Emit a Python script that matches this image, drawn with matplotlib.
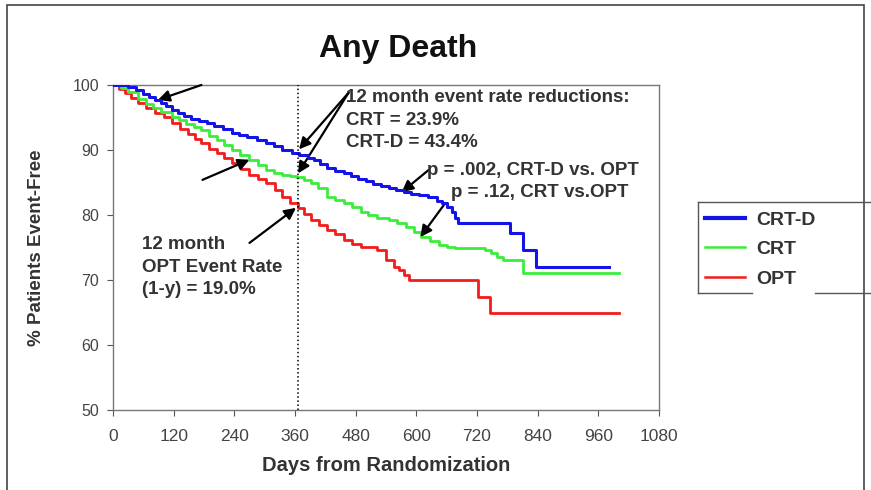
"""
Curvas Kaplan-Meier: muerte por cualquier causa (CRT-D, CRT, OPT).
"""

import matplotlib
matplotlib.use("Agg")
import matplotlib.pyplot as plt
from matplotlib.lines import Line2D
from matplotlib.patches import Rectangle

plt.rcParams["font.family"] = ["Liberation Sans", "DejaVu Sans"]

# Supervivencia libre de eventos (%), en escalones
DIAS_CRTD = [0, 30, 45, 60, 72, 83, 95, 105, 116, 128, 140, 155, 170, 185,
             200, 218, 236, 250, 265, 285, 303, 318, 335, 354, 368, 385, 398,
             410, 423, 440, 457, 470, 485, 500, 515, 530, 545, 560, 575, 590,
             605, 624, 640, 650, 660, 670, 677, 683, 785, 811, 837, 982]
PCT_CRTD = [100, 99.7, 99.2, 98.6, 98.1, 97.7, 97.2, 96.7, 96.2, 95.7, 95.3,
            94.8, 94.4, 94.1, 93.7, 93.2, 92.6, 92.3, 92.0, 91.6, 91.1, 90.6,
            90.0, 89.5, 89.2, 88.8, 88.5, 87.8, 87.2, 86.8, 86.4, 86.0, 85.5,
            85.2, 84.8, 84.5, 84.2, 83.9, 83.6, 83.3, 83.0, 82.7, 82.2, 81.8,
            81.3, 80.4, 79.6, 78.8, 77.2, 74.6, 72.0, 72.0]

DIAS_CRT = [0, 15, 30, 49, 65, 80, 95, 116, 130, 145, 160, 175, 190, 205,
            220, 236, 252, 270, 286, 303, 318, 335, 350, 362, 377, 391, 405,
            423, 440, 457, 473, 490, 505, 522, 545, 562, 579, 595, 610, 627,
            644, 660, 677, 736, 748, 760, 772, 811, 1000]
PCT_CRT = [100, 99.5, 98.9, 97.8, 97.1, 96.5, 95.9, 95.1, 94.6, 94.0, 93.5,
           93.0, 92.2, 91.5, 90.8, 90.0, 89.3, 88.5, 87.7, 86.9, 86.5, 86.2,
           86.0, 85.8, 85.4, 84.9, 84.2, 82.8, 82.3, 81.8, 81.2, 80.5, 80.0,
           79.5, 79.2, 78.7, 78.2, 77.4, 76.6, 76.0, 75.4, 75.1, 74.9, 74.6,
           74.1, 73.6, 73.0, 71.0, 71.0]

DIAS_OPT = [0, 12, 24, 36, 49, 66, 83, 100, 116, 132, 148, 162, 175, 190,
            205, 220, 236, 253, 270, 286, 303, 320, 335, 350, 365, 378, 391,
            407, 423, 440, 457, 473, 490, 522, 541, 555, 565, 575, 585, 722,
            746, 1000]
PCT_OPT = [100, 99.4, 98.8, 98.0, 97.2, 96.4, 95.7, 95.0, 94.2, 93.3, 92.4,
           91.7, 91.0, 90.2, 89.5, 88.8, 88.0, 87.1, 86.2, 85.6, 84.9, 83.8,
           82.8, 81.9, 81.0, 80.1, 79.2, 78.5, 77.7, 77.0, 76.2, 75.6, 75.1,
           74.6, 73.0, 72.0, 71.5, 70.8, 70.0, 67.4, 64.9, 64.9]

TICKS_X = list(range(0, 1081, 120))
TICKS_Y = list(range(50, 101, 10))
DIA_12_MESES = 365

AZUL = "#1414e6"
VERDE = "#3cec3c"
ROJO = "#f21c1c"
TEXTO = "#333333"

fig = plt.figure(figsize=(8.71, 4.90), dpi=100)
ax = fig.add_axes([0.1297, 0.1633, 0.6269, 0.6633])

ax.plot(DIAS_CRTD, PCT_CRTD, drawstyle="steps-post", color=AZUL, lw=2.2,
        label="CRT-D", zorder=4)
ax.plot(DIAS_CRT, PCT_CRT, drawstyle="steps-post", color=VERDE, lw=2.0,
        label="CRT", zorder=3)
ax.plot(DIAS_OPT, PCT_OPT, drawstyle="steps-post", color=ROJO, lw=2.0,
        label="OPT", zorder=2)

ax.axvline(DIA_12_MESES, color="black", ls=":", lw=1.1, zorder=5)

ax.set_xlim(0, 1080)
ax.set_ylim(50, 100)
ax.set_xticks(TICKS_X)
ax.set_yticks(TICKS_Y)
ax.tick_params(direction="out", length=4, colors="#555555",
               labelcolor="#444444")
ax.tick_params(axis="x", pad=10, labelsize=12.5)
ax.tick_params(axis="y", pad=6, labelsize=11.5)
for lado in ax.spines.values():
    lado.set_color("#777777")
    lado.set_linewidth(1.0)

ax.set_xlabel("Days from Randomization", fontsize=14.5, fontweight="bold",
              color=TEXTO, labelpad=8)
ax.set_ylabel("% Patients Event-Free", fontsize=13.5, fontweight="bold",
              color=TEXTO, labelpad=20)
fig.text(0.457, 0.900, "Any Death", ha="center", va="center", fontsize=23,
         fontweight="bold", color="#111111",
         family=["Liberation Sans Narrow", "Liberation Sans"])

# Anotaciones con flechas
flecha = dict(arrowstyle="-|>", color="black", lw=1.6, mutation_scale=17,
              shrinkA=0, shrinkB=0)
estilo = dict(fontsize=13.5, fontweight="bold", color=TEXTO, ha="left",
              va="center", zorder=6)

ax.annotate("", xy=(368, 90.1), xytext=(466, 98.8), arrowprops=flecha)
ax.annotate("", xy=(366, 86.4), xytext=(466, 98.8), arrowprops=flecha)
ax.annotate("", xy=(89, 97.7), xytext=(175, 100), arrowprops=flecha,
            annotation_clip=False)
ax.annotate("", xy=(270, 88.5), xytext=(177, 85.4), arrowprops=flecha)
ax.annotate("", xy=(362, 81.1), xytext=(270, 75.7), arrowprops=flecha)
ax.annotate("", xy=(571, 83.5), xytext=(624, 86.9), arrowprops=flecha)
ax.annotate("", xy=(608, 76.6), xytext=(657, 81.8), arrowprops=flecha)

ax.text(461, 98.0, "12 month event rate reductions:", **estilo)
ax.text(461, 94.6, "CRT = 23.9%", **estilo)
ax.text(461, 91.2, "CRT-D = 43.4%", **estilo)
ax.text(622, 86.9, "p = .002, CRT-D vs. OPT", **estilo)
ax.text(669, 83.4, "p = .12, CRT vs.OPT", **estilo)
ax.text(57, 75.4, "12 month", **estilo)
ax.text(57, 71.9, "OPT Event Rate", **estilo)
ax.text(57, 68.5, "(1-y) = 19.0%", **estilo)

# Leyenda a la derecha, con su caja dibujada aparte
ley = fig.legend(loc="upper left", bbox_to_anchor=(705 / 871, 1 - 211 / 490),
                 frameon=False, fontsize=14, handlelength=2.05,
                 labelspacing=0.62, handletextpad=0.6, borderpad=0,
                 borderaxespad=0)
for t in ley.get_texts():
    t.set_fontweight("bold")
    t.set_color(TEXTO)
ley.get_lines()[0].set_linewidth(3.0)
ley.get_lines()[1].set_linewidth(1.8)
ley.get_lines()[2].set_linewidth(1.8)

gris = "#555555"
x0, x1 = 698 / 871, 1.0
y_sup, y_inf = 1 - 202 / 490, 1 - 293 / 490
fig.add_artist(Line2D([x0, x1], [y_sup, y_sup], color=gris, lw=1.0))
fig.add_artist(Line2D([x0, x0], [y_inf, y_sup], color=gris, lw=1.0))
fig.add_artist(Line2D([x0, 752 / 871], [y_inf, y_inf], color=gris, lw=1.0))
fig.add_artist(Line2D([815 / 871, x1], [y_inf, y_inf], color=gris, lw=1.0))

# Marco exterior
fig.add_artist(Rectangle((7 / 871, -0.05), 857 / 871, 1.04, fill=False,
                         edgecolor="#444444", lw=1.2,
                         transform=fig.transFigure))

fig.savefig("out.png", dpi=100)
plt.close(fig)
